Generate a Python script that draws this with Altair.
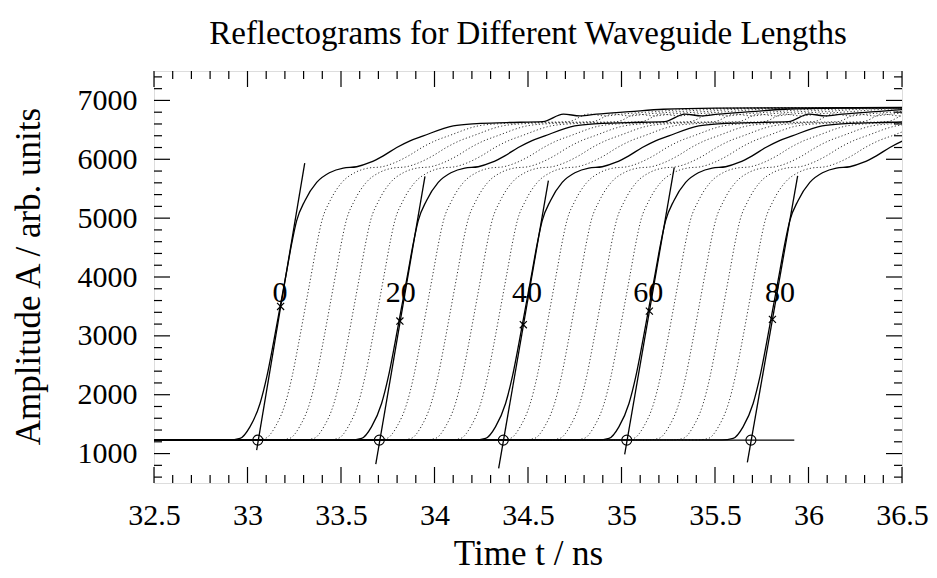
import altair as alt
import pandas as pd

FONT = "Liberation Serif"

# ---- data ----
# waveguide lengths (labels of curves), every 4 units
lengths = [0, 4, 8, 12, 16, 20, 24, 28, 32, 36, 40, 44, 48, 52, 56, 60, 64, 68, 72, 76, 80]
# time at which each reflectogram leaves the baseline (ns)
foot_t = [33.055, 33.19, 33.32, 33.45, 33.58, 33.705, 33.84, 33.97, 34.10, 34.235,
          34.368, 34.50, 34.63, 34.765, 34.895, 35.028, 35.16, 35.295, 35.425, 35.56, 35.692]

# shape of the reflectogram for length 0 (time in ns, amplitude)
curve0_t = [29.80, 32.90, 32.96, 33.013, 33.067, 33.103, 33.138, 33.174, 33.21, 33.236,
            33.263, 33.307, 33.37, 33.441, 33.512, 33.584, 33.655, 33.726, 33.798, 33.869,
            33.94, 34.10, 34.226, 34.386, 34.58, 34.689, 34.778, 34.867, 35.045, 35.224,
            35.50, 36.00, 36.50]
curve0_A = [1232, 1232, 1258, 1454, 1851, 2302, 2868, 3488, 4110, 4563,
            4958, 5297, 5607, 5776, 5851, 5873, 5946, 6059, 6200, 6314,
            6398, 6568, 6607, 6624, 6640, 6768, 6737, 6768, 6810, 6850,
            6870, 6875, 6880]

# tangent lines of the labelled curves
tan_t0 = [33.049, 33.686, 34.343, 35.017, 35.673]
tan_A0 = [1059, 822, 749, 986, 851]
tan_t1 = [33.306, 33.949, 34.609, 35.282, 35.942]
tan_A1 = [5936, 5708, 5636, 5861, 5720]

# inflection markers (x) and baseline intersections (o)
mid_t = [33.177, 33.815, 34.475, 35.149, 35.807]
mid_A = [3500, 3251, 3190, 3420, 3280]
cross_t = [33.055, 33.705, 34.368, 35.028, 35.692]
cross_A = [1229, 1229, 1229, 1229, 1229]

# baseline fit
base_t0, base_t1, base_A = [32.5], [35.924], [1229]

# curve labels
label_text = ["0", "20", "40", "60", "80"]
label_t = [33.174, 33.819, 34.495, 35.143, 35.848]
label_A = [3720, 3720, 3720, 3720, 3720]

# axis ticks
x_major = [32.5, 33.0, 33.5, 34.0, 34.5, 35.0, 35.5, 36.0, 36.5]
x_minor = [32.6, 32.7, 32.8, 32.9, 33.1, 33.2, 33.3, 33.4, 33.6, 33.7, 33.8, 33.9,
           34.1, 34.2, 34.3, 34.4, 34.6, 34.7, 34.8, 34.9, 35.1, 35.2, 35.3, 35.4,
           35.6, 35.7, 35.8, 35.9, 36.1, 36.2, 36.3, 36.4]
y_major = [1000, 2000, 3000, 4000, 5000, 6000, 7000]
y_minor = [600, 800, 1200, 1400, 1600, 1800, 2200, 2400, 2600, 2800, 3200, 3400, 3600,
           3800, 4200, 4400, 4600, 4800, 5200, 5400, 5600, 5800, 6200, 6400, 6600, 6800,
           7200, 7400]

W, H = 748, 412
XD = [32.5, 36.5]
YD = [500, 7500]

# ---- tables ----
rows = []
for L, ft in zip(lengths, foot_t):
    shift = ft - foot_t[0]
    for t, a in zip(curve0_t, curve0_A):
        rows.append({"t": t + shift, "A": a, "L": L, "solid": L % 20 == 0})
curves = pd.DataFrame(rows)

xs = alt.Scale(domain=XD, nice=False, zero=False)
ys = alt.Scale(domain=YD, nice=False, zero=False)

x_axis = alt.Axis(values=x_major, format="~g", title="Time t / ns",
                  labelFont=FONT, labelFontSize=30, labelColor="black",
                  labelPadding=17, ticks=False, tickSize=0, domain=False, grid=False,
                  labelFlush=False, labelOverlap=False, labelBound=False,
                  titleFont=FONT, titleFontSize=35, titleFontWeight="normal",
                  titleColor="black", titleX=W / 2, titleY=70,
                  titleBaseline="middle", titleAlign="center")
y_axis = alt.Axis(values=y_major, format="d", title="Amplitude A / arb. units",
                  labelFont=FONT, labelFontSize=30, labelColor="black",
                  labelPadding=17, ticks=False, tickSize=0, domain=False, grid=False,
                  labelFlush=False, labelOverlap=False, labelBound=False,
                  titleFont=FONT, titleFontSize=35, titleFontWeight="normal",
                  titleColor="black", titleX=-126, titleY=H / 2 - 1, titleAngle=270,
                  titleBaseline="middle", titleAlign="center")


def X(f):
    return alt.X(f, scale=xs, axis=x_axis)


def Y(f):
    return alt.Y(f, scale=ys, axis=y_axis)


base = alt.Chart(curves)

dotted = base.transform_filter("!datum.solid").mark_line(
    interpolate="monotone", clip=True, color="#333", strokeWidth=1.0,
    strokeDash=[1.2, 2.2]
).encode(x=X("t:Q"), y=Y("A:Q"), detail="L:N")

solid = base.transform_filter("datum.solid").mark_line(
    interpolate="monotone", clip=True, color="black", strokeWidth=1.3
).encode(x=X("t:Q"), y=Y("A:Q"), detail="L:N")

tang = alt.Chart(pd.DataFrame({"t": tan_t0, "A": tan_A0, "t1": tan_t1, "A1": tan_A1})).mark_rule(
    color="black", strokeWidth=1.3, clip=True
).encode(x=X("t:Q"), x2="t1:Q", y=Y("A:Q"), y2="A1:Q")

baseline = alt.Chart(pd.DataFrame({"t": base_t0, "t1": base_t1, "A": base_A})).mark_rule(
    color="black", strokeWidth=1.3
).encode(x=X("t:Q"), x2="t1:Q", y=Y("A:Q"))

xmark = alt.Chart(pd.DataFrame({"t": mid_t, "A": mid_A})).mark_point(
    shape="M-1,-1L1,1M-1,1L1,-1", filled=False, color="black", size=50, strokeWidth=1.2,
    opacity=1
).encode(x=X("t:Q"), y=Y("A:Q"))

omark = alt.Chart(pd.DataFrame({"t": cross_t, "A": cross_A})).mark_point(
    shape="circle", filled=False, color="black", size=100, strokeWidth=1.1, opacity=1
).encode(x=X("t:Q"), y=Y("A:Q"))

labels = alt.Chart(pd.DataFrame({"t": label_t, "A": label_A, "s": label_text})).mark_text(
    font=FONT, fontSize=30, color="black", align="center", baseline="middle"
).encode(x=X("t:Q"), y=Y("A:Q"), text="s:N")

# mirrored inward ticks on all four sides
xmaj = pd.DataFrame({"t": x_major})
xmin = pd.DataFrame({"t": x_minor})
ymaj = pd.DataFrame({"A": y_major})
ymin = pd.DataFrame({"A": y_minor})


def xticks(df, ln):
    b = alt.Chart(df).mark_rule(color="black", strokeWidth=1.2).encode(
        x=X("t:Q"), y=alt.value(H), y2=alt.value(H - ln))
    t = alt.Chart(df).mark_rule(color="black", strokeWidth=1.2).encode(
        x=X("t:Q"), y=alt.value(0), y2=alt.value(ln))
    return [b, t]


def yticks(df, ln):
    l = alt.Chart(df).mark_rule(color="black", strokeWidth=1.2).encode(
        y=Y("A:Q"), x=alt.value(0), x2=alt.value(ln))
    r = alt.Chart(df).mark_rule(color="black", strokeWidth=1.2).encode(
        y=Y("A:Q"), x=alt.value(W), x2=alt.value(W - ln))
    return [l, r]


tick_layers = xticks(xmaj, 16) + xticks(xmin, 8) + yticks(ymaj, 16) + yticks(ymin, 8)

chart = alt.layer(
    dotted, solid, baseline, tang, omark, xmark, labels, *tick_layers
).properties(
    width=W, height=H,
    title=alt.TitleParams(
        text="Reflectograms for Different Waveguide Lengths",
        font=FONT, fontSize=33, fontWeight="normal", color="black",
        anchor="middle", baseline="alphabetic", offset=-7, frame="group",
    ),
    autosize=alt.AutoSizeParams(type="none"),
    padding={"left": 154, "top": 71, "right": 35, "bottom": 95},
).configure_view(
    stroke="black", strokeWidth=1.5
).configure(background="white")

chart.save("out.html", embed_options={"renderer": "svg", "actions": False})
